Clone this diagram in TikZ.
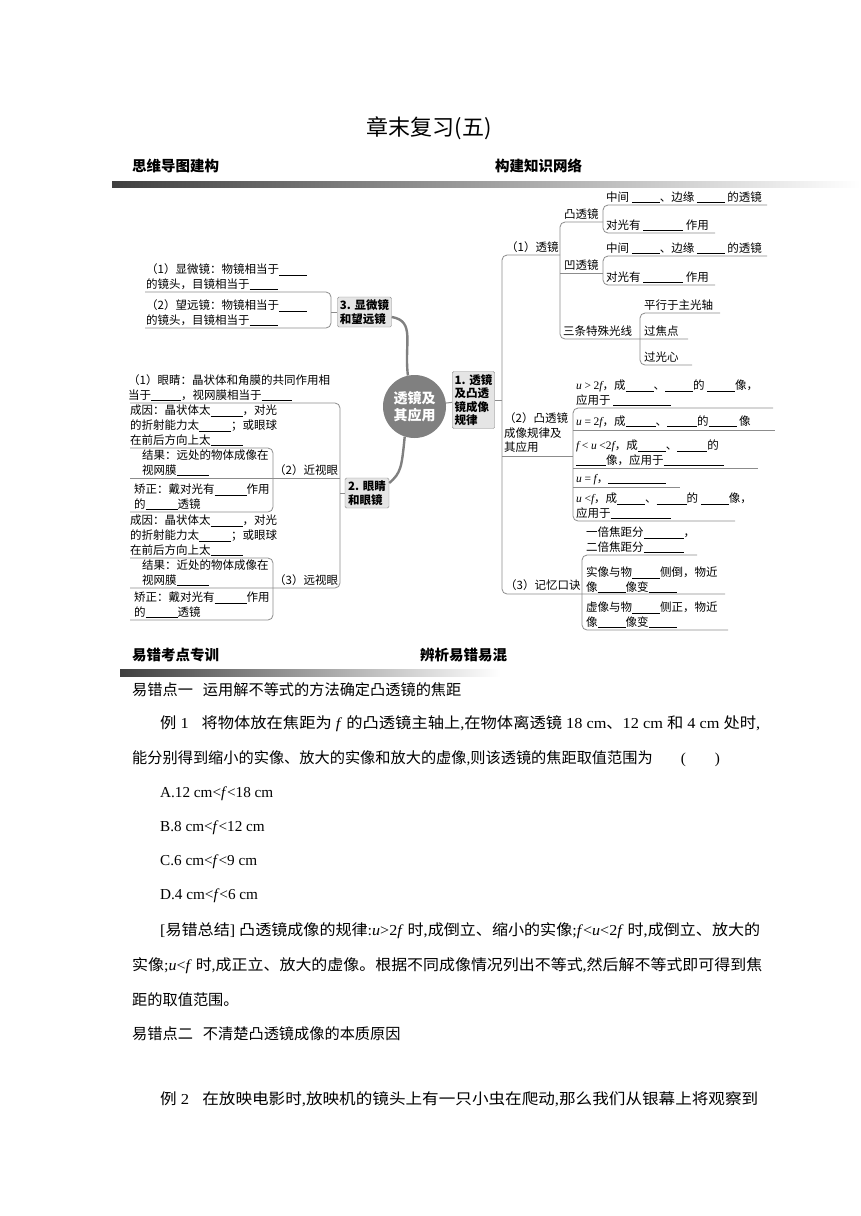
\documentclass[tikz,border=0pt]{standalone}
\usepackage{graphicx}
\usepackage{fontspec}
\newfontfamily\cjk{Noto Sans CJK SC}
\newfontfamily\lat{Liberation Serif}
\newcommand\la[1]{{\lat #1}}
\newcommand\vi[1]{{\lat\itshape #1}}
\newcommand\bl[1]{\rule[-1.5pt]{#1pt}{0.5pt}}
\newcommand\fitw[2]{\resizebox{#1pt}{\height}{#2}}
\newcommand\mmf{\cjk\fontsize{11.5}{14.8}\selectfont}
\newcommand\bxf{\cjk\bfseries\fontsize{11.5}{13.5}\selectfont}
\newcommand\bdf{\cjk\fontsize{15.2}{18}\selectfont}
\definecolor{ln}{gray}{0.55}
\definecolor{boxg}{gray}{0.9}
\definecolor{circg}{gray}{0.5}
\tikzset{
  mm/.style={font=\mmf, inner sep=0pt, align=left, anchor=south west},
  mmline/.style={draw=ln, line width=0.8pt, rounded corners=5pt},
  bx/.style={draw=ln, fill=boxg, rounded corners=1.5pt, font=\bxf, inner sep=2.5pt, align=left},
  curve/.style={draw=circg, line width=2.4pt},
  body/.style={font=\bdf, inner sep=0pt, anchor=west},
  head/.style={font=\cjk\bfseries\fontsize{14.5}{16}\selectfont, inner sep=0pt, anchor=west}
}
\begin{document}
\begin{tikzpicture}[x=1pt,y=-1pt]
\useasboundingbox (0,0) rectangle (860,1216);
\fill[white] (0,0) rectangle (860,1216);

% title and headings
\node[font=\cjk\fontsize{22}{24}\selectfont, inner sep=0pt] (title) at (429,128) {章末复习(五)};
\node[head] (h1) at (132,166) {思维导图建构};
\node[head] (h2) at (495,166) {构建知识网络};
\shade[left color=black!75, right color=white] (112,181) rectangle (860,187);

% center and main boxes
\node[circle, fill=circg, minimum size=63pt, inner sep=0pt, text=white, align=center,
      font=\cjk\bfseries\fontsize{14}{17}\selectfont] (c) at (414.5,406.5) {透镜及\\其应用};
\node[bx, minimum width=42pt, minimum height=57pt] (b1) at (473.5,400) {1. 透镜\\及凸透\\镜成像\\规律};
\node[bx, minimum width=51pt, minimum height=30pt] (b3) at (364.5,312) {3. 显微镜\\和望远镜};
\node[bx, minimum width=44pt, minimum height=30pt] (b2) at (367,493) {2. 眼睛\\和眼镜};

\draw[draw=ln, line width=1pt] (c) -- (b1);
\draw[curve] ([yshift=-5pt]b3.east) .. controls +(24,4) and +(-4,-32) .. (c.102);
\draw[curve] (c.252) .. controls +(-3,30) and +(12,-10) .. ([yshift=10pt]b2.east);

% ---------- box 3 branch ----------
\coordinate (j3) at (331,312);
\draw[mmline] (145,292) -- (331,292) -- (331,328) -- (145,328);
\draw[mmline] (j3) -- (b3.west);
\node[mm] (m31) at (146,290) {（1）显微镜：物镜相当于\bl{28}\\的镜头，目镜相当于\bl{28}};
\node[mm] (m32) at (146,326) {（2）望远镜：物镜相当于\bl{28}\\的镜头，目镜相当于\bl{28}};

% ---------- box 2 branch ----------
\coordinate (j2) at (340,493);
\draw[mmline] (130,403) -- (340,403) -- (340,588) -- (130,588);
\draw[mmline] (130,478) -- (340,478);
\draw[mmline] (j2) -- (b2.west);
\draw[mmline] (130,448) -- (273,448) -- (273,512) -- (130,512);
\draw[mmline] (130,558) -- (273,558) -- (273,620) -- (130,620);
\node[mm] (m21) at (128,401) {（1）眼睛：晶状体和角膜的共同作用相\\当于\bl{30}，视网膜相当于\bl{30}};
\node[mm] (m2a) at (130,446) {成因：晶状体太\bl{32}，对光\\的折射能力太\bl{32}；或眼球\\在前后方向上太\bl{32}};
\node[mm] (m2b) at (142,476) {结果：远处的物体成像在\\视网膜\bl{32}};
\node[mm] (m2c) at (134,510) {矫正：戴对光有\bl{32}作用\\的\bl{32}透镜};
\node[mm] (m2l) at (274,476) {（2）近视眼};
\node[mm] (m3a) at (130,556) {成因：晶状体太\bl{32}，对光\\的折射能力太\bl{32}；或眼球\\在前后方向上太\bl{32}};
\node[mm] (m3b) at (142,586) {结果：近处的物体成像在\\视网膜\bl{32}};
\node[mm] (m3c) at (134,618) {矫正：戴对光有\bl{32}作用\\的\bl{32}透镜};
\node[mm] (m3l) at (274,586) {（3）远视眼};

% ---------- box 1 branch ----------
\coordinate (j1) at (502,400);
\draw[mmline] (560,255) -- (502,255) -- (502,594) -- (725,594);
\draw[mmline] (b1.east) -- (j1);
\draw[mmline] (502,456) -- (573,456);
\node[mm] (r1) at (506,253) {（1）透镜};
\node[mm] (r2) at (504,453) {（2）凸透镜\\成像规律及\\其应用};
\node[mm] (r3) at (505,591) {（3）记忆口诀};

% (1) lenses
\draw[mmline] (603,222) -- (560,222) -- (560,339) -- (688,339);
\draw[mmline] (560,273) -- (603,273);
\draw[mmline] (767,205) -- (603,205) -- (603,233) -- (715,233);
\draw[mmline] (767,256) -- (603,256) -- (603,285) -- (715,285);
\draw[mmline] (720,313) -- (640,313) -- (640,365) -- (692,365);
\node[mm] (t1) at (564,220) {凸透镜};
\node[mm] (t2) at (564,271) {凹透镜};
\node[mm] (t3) at (563,337) {三条特殊光线};
\node[mm] (t11) at (606,203) {中间 \bl{28}、边缘 \bl{28} 的透镜};
\node[mm] (t12) at (606,231) {对光有 \bl{40} 作用};
\node[mm] (t21) at (606,254) {中间 \bl{28}、边缘 \bl{28} 的透镜};
\node[mm] (t22) at (606,283) {对光有 \bl{40} 作用};
\node[mm] (t31) at (644,311) {平行于主光轴};
\node[mm] (t32) at (644,337) {过焦点};
\node[mm] (t33) at (644,363) {过光心};

% (2) imaging rules
\draw[mmline] (773,408) -- (573,408) -- (573,521) -- (735,521);
\draw[mmline] (573,430) -- (775,430);
\draw[mmline] (573,468) -- (758,468);
\draw[mmline] (573,487) -- (680,487);
\node[mm] (u1) at (576,406) {\vi{u} \la{>} \la{2}\vi{f}，成\bl{28}、\bl{28}的 \bl{28}像，\\应用于 \bl{58}};
\node[mm] (u2) at (576,428) {\vi{u} \la{=} \la{2}\vi{f}，成\bl{30}、\bl{30}的\bl{28} 像};
\node[mm] (u3) at (576,466) {\vi{f} \la{<} \vi{u} \la{<2}\vi{f}，成\bl{28}、\bl{30}的\\\bl{30}像，应用于\bl{60}};
\node[mm] (u4) at (576,485) {\vi{u} \la{=} \vi{f}，\bl{58}};
\node[mm] (u5) at (576,519) {\vi{u} \la{<}\vi{f}，成\bl{28}、\bl{30}的 \bl{28}像，\\应用于\bl{60}};

% (3) memory tips
\draw[mmline] (697,555) -- (582,555) -- (582,630) -- (728,630);
\node[mm] (k1) at (586,553) {一倍焦距分\bl{40}，\\二倍焦距分\bl{40}};
\node[mm] (k2) at (586,593) {实像与物\bl{28}侧倒，物近\\像\bl{28}像变\bl{28}};
\node[mm] (k3) at (586,628) {虚像与物\bl{28}侧正，物近\\像\bl{28}像变\bl{28}};

% ---------- lower section ----------
\node[head] (h3) at (132,655) {易错考点专训};
\node[head] (h4) at (420,655) {辨析易错易混};
\shade[left color=black!75, right color=white] (120,669) rectangle (500,676);

\node[body] (p1) at (132,690) {易错点一\hspace{10pt}运用解不等式的方法确定凸透镜的焦距};
\node[body] (p2) at (160,724) {\fitw{600}{例\la{ 1}\hspace{12pt}将物体放在焦距为\la{ \textit{f} }的凸透镜主轴上\la{,}在物体离透镜\la{ 18 cm}、\la{12 cm }和\la{ 4 cm }处时\la{,}}};
\node[body] (p3) at (132,759) {能分别得到缩小的实像、放大的实像和放大的虚像\la{,}则该透镜的焦距取值范围为\hspace{28pt}\la{(\hspace{29pt})}};
\node[body] (p4) at (160,794) {\la{A.12 cm<\textit{f}<18 cm}};
\node[body] (p5) at (160,828) {\la{B.8 cm<\textit{f}<12 cm}};
\node[body] (p6) at (160,862) {\la{C.6 cm<\textit{f}<9 cm}};
\node[body] (p7) at (160,896) {\la{D.4 cm<\textit{f}<6 cm}};
\node[body] (p8) at (160,931) {\fitw{600}{\la{[}易错总结\la{] }凸透镜成像的规律\la{:\textit{u}>2\textit{f} }时\la{,}成倒立、缩小的实像\la{;\textit{f}<\textit{u}<2\textit{f} }时\la{,}成倒立、放大的}};
\node[body] (p9) at (132,966) {\fitw{630}{实像\la{;\textit{u}<\textit{f} }时\la{,}成正立、放大的虚像。根据不同成像情况列出不等式\la{,}然后解不等式即可得到焦}};
\node[body] (p10) at (132,1000) {距的取值范围。};
\node[body] (p11) at (132,1034) {易错点二\hspace{10pt}不清楚凸透镜成像的本质原因};
\node[body] (p12) at (160,1099) {\fitw{598}{例\la{ 2}\hspace{12pt}在放映电影时\la{,}放映机的镜头上有一只小虫在爬动\la{,}那么我们从银幕上将观察到}};
\end{tikzpicture}
\end{document}
